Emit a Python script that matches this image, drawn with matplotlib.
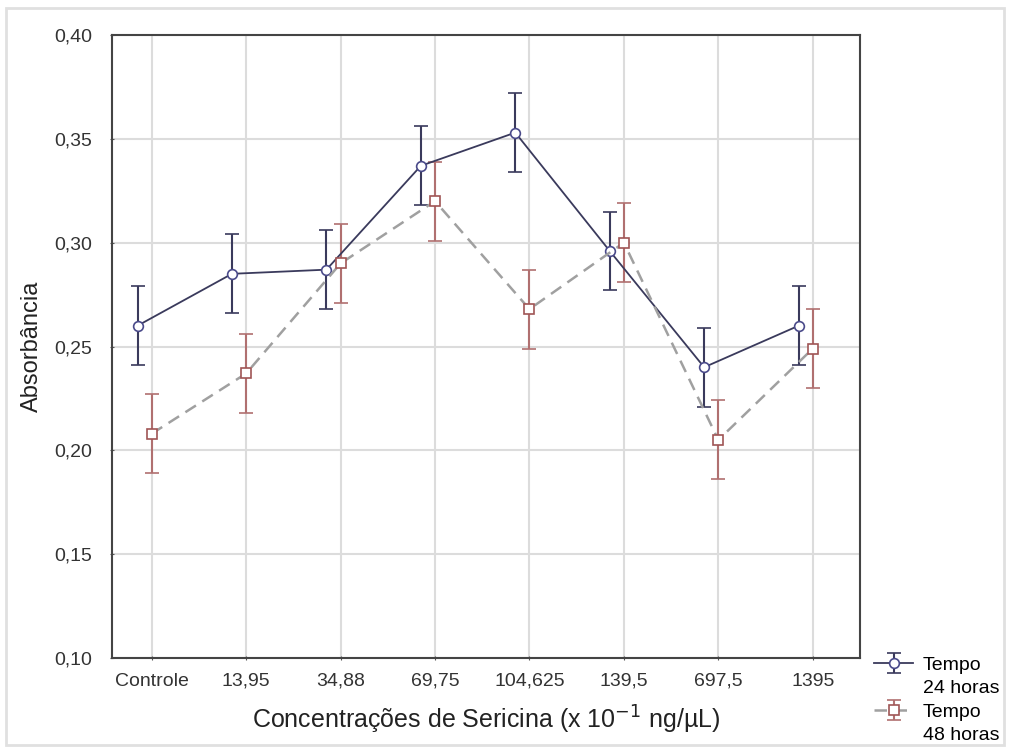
import numpy as np
import matplotlib
matplotlib.use('Agg')
import matplotlib.pyplot as plt
from matplotlib.patches import Rectangle
from matplotlib.lines import Line2D

plt.rcParams['font.family'] = ['Liberation Sans', 'DejaVu Sans']

categorias = ['Controle', '13,95', '34,88', '69,75', '104,625', '139,5', '697,5', '1395']
media_24h = [0.260, 0.285, 0.287, 0.337, 0.353, 0.296, 0.240, 0.260]
erro_24h = [0.019, 0.019, 0.019, 0.019, 0.019, 0.019, 0.019, 0.019]
media_48h = [0.208, 0.237, 0.290, 0.320, 0.268, 0.300, 0.205, 0.249]
erro_48h = [0.019, 0.019, 0.019, 0.019, 0.019, 0.019, 0.019, 0.019]
yticks = [0.10, 0.15, 0.20, 0.25, 0.30, 0.35, 0.40]

fig = plt.figure(figsize=(10.1, 7.49), dpi=100)
ax = fig.add_axes([112/1010, 1 - 658/749, 748/1010, 623/749])

# moldura clara em volta da figura
fig.patches.append(Rectangle((6/1010, 4/749), 998/1010, 737/749, transform=fig.transFigure,
                             fill=False, edgecolor='#e0e0e0', linewidth=2))

x = np.arange(len(categorias))

e1 = ax.errorbar(x - 0.15, media_24h, yerr=erro_24h, color='#3a3a5c', ecolor='#3a3a5c',
                 linestyle='-', linewidth=1.3, marker='o', markersize=7,
                 markerfacecolor='white', markeredgecolor='#4a4a8a', markeredgewidth=1.2,
                 capsize=5, elinewidth=1.5, capthick=1.3, zorder=3)
e2 = ax.errorbar(x, media_48h, yerr=erro_48h, color='#a0a0a0', ecolor='#b07070',
                 linestyle=(0, (5, 3)), linewidth=1.8, marker='s', markersize=7,
                 markerfacecolor='white', markeredgecolor='#a05555', markeredgewidth=1.2,
                 capsize=5, elinewidth=1.5, capthick=1.3, zorder=3)

ax.set_xlim(-0.42, 7.5)
ax.set_ylim(0.10, 0.40)
ax.set_xticks(x)
ax.set_xticklabels(categorias, fontsize=14, color='#333333')
ax.set_yticks(yticks)
ax.set_yticklabels([('%.2f' % v).replace('.', ',') for v in yticks], fontsize=14, color='#333333')
ax.tick_params(axis='both', length=3, direction='inout', color='#555555')
ax.tick_params(axis='y', pad=13)
ax.tick_params(axis='x', pad=9)
ax.grid(True, color='#dcdcdc', linewidth=1.5)
ax.set_axisbelow(True)
for s in ax.spines.values():
    s.set_color('#444444')
    s.set_linewidth(1.5)

ax.set_ylabel('Absorbância', fontsize=17, color='#222222', labelpad=8)
ax.set_xlabel('Concentrações de Sericina (x 10$^{-1}$ ng/µL)', fontsize=18, color='#222222', labelpad=10)

vazio = Line2D([], [], linestyle='none')
fig.legend([e1, vazio, e2, vazio], ['Tempo', '24 horas', 'Tempo', '48 horas'],
           loc='lower right', bbox_to_anchor=(1.0, -0.008), frameon=False, fontsize=14,
           handlelength=2.0, labelspacing=0.3, handletextpad=0.5, borderaxespad=0.15)

fig.savefig('out.png', dpi=100, facecolor='white')
